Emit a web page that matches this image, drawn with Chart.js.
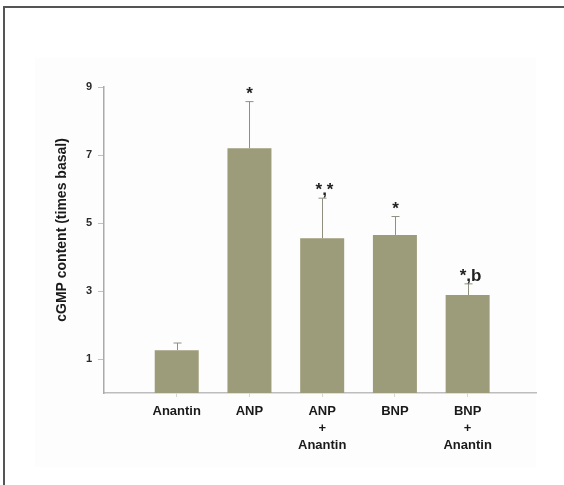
<!DOCTYPE html>
<html>
<head>
<meta charset="utf-8">
<script src="https://cdn.jsdelivr.net/npm/chart.js@4/dist/chart.umd.min.js"></script>
<style>
  html, body { margin: 0; padding: 0; background: #ffffff; }
  #wrap { position: relative; width: 564px; height: 485px; }
</style>
</head>
<body>
<div id="wrap"><canvas id="c" width="564" height="485"></canvas></div>
<script>
// Treatment groups (each entry is the stacked lines of its axis label)
const groups = [
  ['Anantin'],
  ['ANP'],
  ['ANP', '+', 'Anantin'],
  ['BNP'],
  ['BNP', '+', 'Anantin']
];
// Mean cGMP content, times basal
const means = [1.26, 7.2, 4.55, 4.65, 2.88];
// Upper error (SEM) above each mean
const upperErrors = [0.21, 1.37, 1.18, 0.54, 0.33];
// Significance marks above the error bars
const marks = ['', '*', '*,*', '*', '*,b'];
// Y axis tick values
const yTicks = [1, 3, 5, 7, 9];
const yTitle = 'cGMP content (times basal)';

const FONT = 'Liberation Sans, Arial, Helvetica, sans-serif';
const BAR_COLOR = '#9c9b7a';

// Outer frame and faint panel behind the plot
const framePlugin = {
  id: 'frame',
  beforeDraw(chart) {
    const ctx = chart.ctx;
    ctx.save();
    ctx.fillStyle = '#fdfdfd';
    ctx.fillRect(35, 58, 501, 409);
    ctx.strokeStyle = '#555555';
    ctx.lineWidth = 2;
    ctx.beginPath();
    ctx.moveTo(4, 485);
    ctx.lineTo(4, 7);
    ctx.lineTo(564, 7);
    ctx.stroke();
    ctx.restore();
  }
};

// Error bars and significance marks, placed through the chart scales
const errorPlugin = {
  id: 'errorBars',
  afterDatasetsDraw(chart) {
    const ctx = chart.ctx;
    const xs = chart.scales.x, ys = chart.scales.y;
    ctx.save();
    means.forEach((m, i) => {
      const px = Math.round(xs.getPixelForValue(i + 1)) + 0.5;
      const base = ys.getPixelForValue(m);
      const top = ys.getPixelForValue(m + upperErrors[i]);
      ctx.strokeStyle = '#8f8f80';
      ctx.lineWidth = 1;
      ctx.beginPath();
      ctx.moveTo(px, base);
      ctx.lineTo(px, top);
      ctx.moveTo(px - 4, top);
      ctx.lineTo(px + 4, top);
      ctx.stroke();
      if (marks[i]) {
        ctx.fillStyle = '#222222';
        ctx.font = 'bold 17px ' + FONT;
        ctx.textAlign = 'center';
        ctx.textBaseline = 'alphabetic';
        ctx.fillText(marks[i], px + (marks[i].length > 1 ? 2 : 0), top - 3);
      }
    });
    ctx.restore();
  }
};

// Rotated y axis title
const yTitlePlugin = {
  id: 'yTitle',
  afterDraw(chart) {
    const ctx = chart.ctx;
    const a = chart.chartArea;
    ctx.save();
    ctx.translate(a.left - 42, (a.top + a.bottom) / 2 - 10);
    ctx.rotate(-Math.PI / 2);
    ctx.fillStyle = '#1a1a1a';
    ctx.font = 'bold 14px ' + FONT;
    ctx.textAlign = 'center';
    ctx.textBaseline = 'middle';
    ctx.fillText(yTitle, 0, 0);
    ctx.restore();
  }
};

new Chart(document.getElementById('c'), {
  type: 'bar',
  data: {
    datasets: [{
      data: means.map((v, i) => ({ x: i + 1, y: v })),
      backgroundColor: BAR_COLOR,
      borderWidth: 0,
      barPercentage: 0.605,
      categoryPercentage: 1
    }]
  },
  options: {
    responsive: false,
    animation: false,
    layout: { padding: { top: 87, right: 28, left: 0, bottom: 0 } },
    plugins: { legend: { display: false }, tooltip: { enabled: false } },
    scales: {
      x: {
        type: 'linear',
        offset: false,
        min: 0,
        max: 5.94,
        afterBuildTicks: s => { s.ticks = groups.map((g, i) => ({ value: i + 1 })); },
        afterFit: s => { s.height = 92; },
        ticks: {
          callback: v => groups[v - 1] || '',
          font: { family: FONT, weight: 'bold', size: 13, lineHeight: '17px' },
          color: '#1a1a1a',
          padding: 6,
          maxRotation: 0,
          autoSkip: false
        },
        grid: { offset: false, drawOnChartArea: false, tickLength: 4, color: '#d6d6d6' },
        border: { color: '#bdbdbd', width: 1.5 }
      },
      y: {
        min: 0,
        max: 9,
        afterBuildTicks: s => { s.ticks = yTicks.map(v => ({ value: v })); },
        afterFit: s => { s.width = 104; },
        ticks: {
          font: { family: FONT, weight: 'bold', size: 11 },
          color: '#2a2a2a',
          padding: 6
        },
        grid: { drawOnChartArea: false, tickLength: 6, color: '#c0c0c0' },
        border: { color: '#aaaaaa', width: 1.5 }
      }
    }
  },
  plugins: [framePlugin, errorPlugin, yTitlePlugin]
});
</script>
</body>
</html>
